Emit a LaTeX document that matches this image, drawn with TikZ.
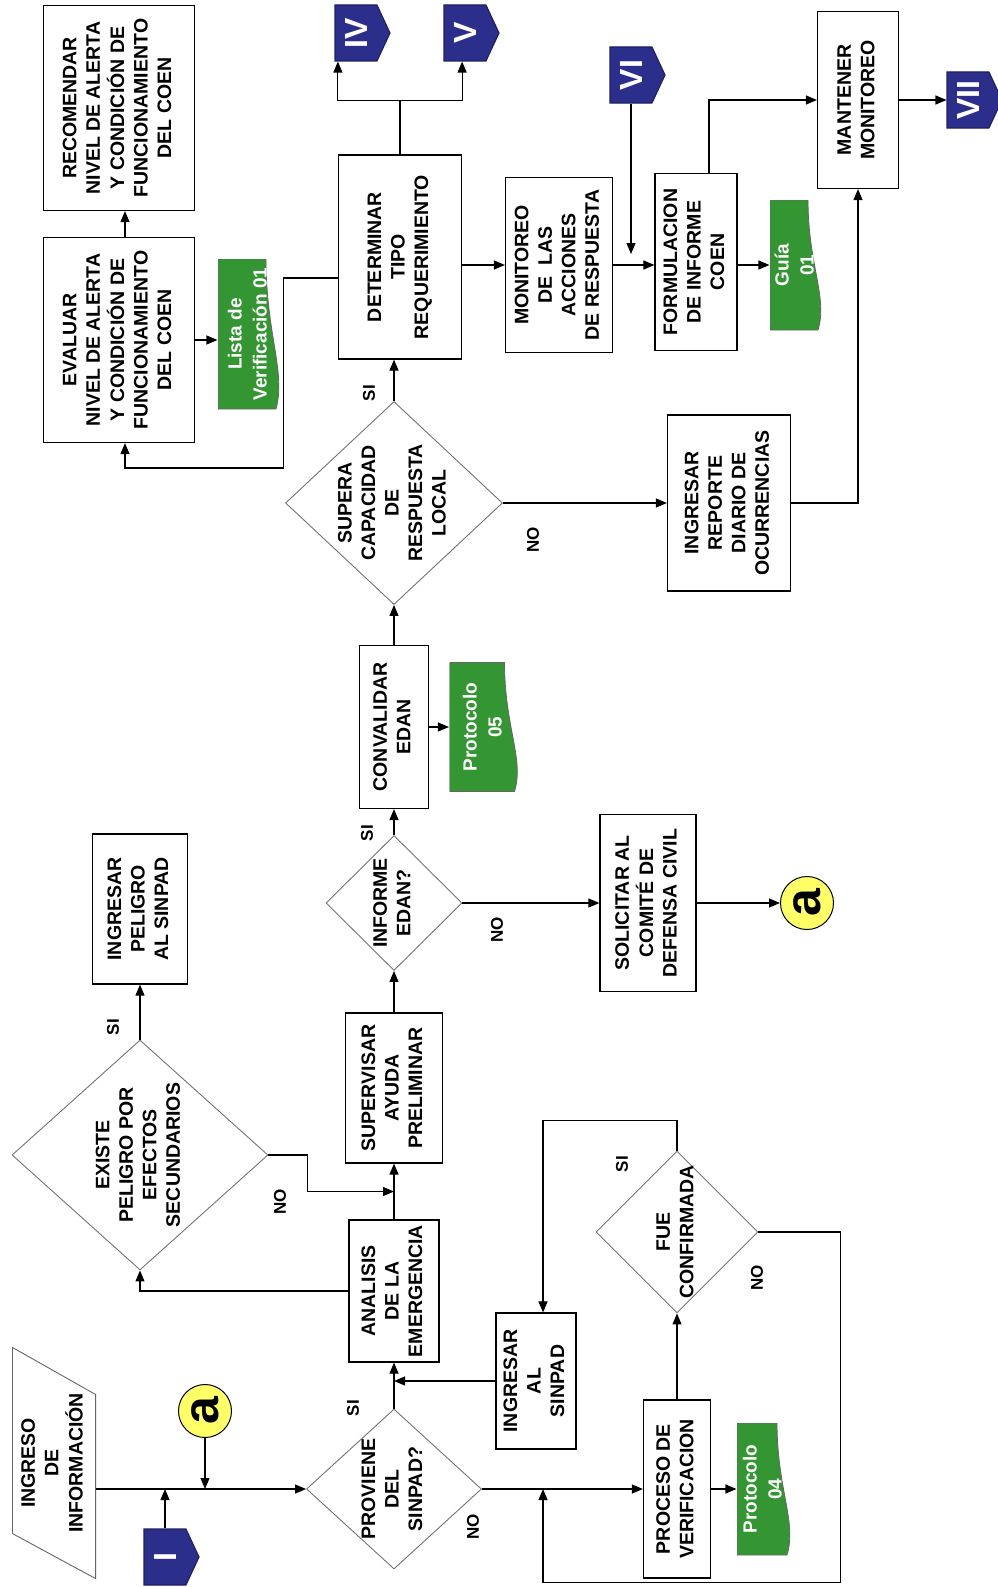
\documentclass[tikz,border=0pt]{standalone}
\usepackage{fontspec}
\setmainfont{Liberation Sans}
\usepackage{graphicx}
\usepackage{tikz}
\usetikzlibrary{arrows.meta}
\usetikzlibrary{shapes.geometric}
\usetikzlibrary{shapes.symbols}
\usetikzlibrary{calc}

\definecolor{conblue}{RGB}{44,46,140}
\definecolor{docgreen}{RGB}{51,150,51}
\definecolor{ayellow}{RGB}{255,255,102}

\newcommand{\vtxt}[1]{\rotatebox{90}{\begin{tabular}{@{}c@{}}#1\end{tabular}}}

\tikzset{
  box/.style={draw, line width=1.2pt, inner sep=1pt, font=\fontsize{19.5}{23.5}\selectfont\bfseries},
  dia/.style={diamond, draw=black!55, line width=0.9pt, inner sep=0pt},
  txt/.style={inner sep=0pt, font=\fontsize{19.5}{23.5}\selectfont\bfseries},
  lbl/.style={inner sep=0pt, font=\fontsize{17}{20}\selectfont\bfseries},
  doc/.style={inner sep=0pt, fill=white, text=white, font=\fontsize{19}{25}\selectfont\bfseries,
    path picture={\filldraw[fill=docgreen, draw=black!60, line width=0.8pt]
      (path picture bounding box.north west) -- ($(path picture bounding box.north east)+(-14,0)$)
      .. controls ($(path picture bounding box.north east)!0.5!(path picture bounding box.south east)+(-14,0)$)
      and ($(path picture bounding box.north east)!0.75!(path picture bounding box.south east)+(6,0)$)
      .. ($(path picture bounding box.south east)+(-4,0)$)
      -- (path picture bounding box.south west) -- cycle;}},
  con/.style={signal, signal to=east, signal pointer angle=130, fill=conblue, draw=conblue!70!black,
    text=white, inner sep=0pt, minimum width=55pt, minimum height=56pt, font=\fontsize{32}{32}\selectfont\bfseries},
  link/.style={circle, draw, line width=1pt, fill=ayellow, minimum size=53pt, inner sep=0pt,
    font=\fontsize{50}{50}\selectfont\bfseries},
  >={Triangle[length=11pt,width=9pt]}
}

\begin{document}
\begin{tikzpicture}[x=1pt, y=-1pt, line width=1.1pt]
\useasboundingbox (0,0) rectangle (997,1587);

% entrada
\node[txt, minimum width=82pt, minimum height=230pt] (inp) at (54,1463) {\vtxt{INGRESO\\DE\\INFORMACIÓN}};
\draw[line width=0.9pt, black!60] (inp.north west) -- ([yshift=-47pt]inp.north east) -- (inp.south east) -- ([yshift=45pt]inp.south west) -- cycle;
\node[con] (c1) at (165,1557) {\rotatebox{90}{I}};
\node[link] (a1) at (205,1411) {\rotatebox{90}{a}};

% columna central
\node[dia, minimum width=175pt, minimum height=160pt] (pro) at (394,1489) {};
\node[txt] (proT) at (pro) {\vtxt{PROVIENE\\DEL\\SINPAD?}};
\node[box, minimum width=90pt, minimum height=142pt] (ana) at (394,1291) {\vtxt{ANALISIS\\DE LA\\EMERGENCIA}};
\node[box, minimum width=97pt, minimum height=150pt] (spv) at (394,1088) {\vtxt{SUPERVISAR\\AYUDA\\PRELIMINAR}};
\node[dia, minimum width=136pt, minimum height=135pt] (inf) at (394,903) {};
\node[txt] (infT) at (inf) {\vtxt{INFORME\\EDAN?}};
\node[box, minimum width=69pt, minimum height=163pt] (cnv) at (394,727) {\vtxt{CONVALIDAR\\EDAN}};
\node[doc, minimum width=69pt, minimum height=129pt] (p05) at (484,727) {\vtxt{Protocolo\\05}};
\node[dia, minimum width=217pt, minimum height=203pt] (sup) at (394,503) {};
\node[txt] (supT) at (sup) {\vtxt{SUPERA\\CAPACIDAD\\DE\\RESPUESTA\\LOCAL}};
\node[box, minimum width=123pt, minimum height=204pt] (det) at (400,257) {\vtxt{DETERMINAR\\TIPO\\REQUERIMIENTO}};
\node[con] (iv) at (356,33) {\rotatebox{90}{IV}};
\node[con] (v) at (465,33) {\rotatebox{90}{V}};

% lado izquierdo
\node[box, minimum width=151pt, minimum height=205pt] (rec) at (119,108) {\vtxt{RECOMENDAR\\NIVEL DE ALERTA\\Y CONDICIÓN DE\\FUNCIONAMIENTO\\DEL COEN}};
\node[box, minimum width=151pt, minimum height=205pt] (eva) at (119,340) {\vtxt{EVALUAR\\NIVEL DE ALERTA\\Y CONDICIÓN DE\\FUNCIONAMIENTO\\DEL COEN}};
\node[doc, minimum width=62pt, minimum height=150pt] (lis) at (249,334) {\vtxt{Lista de\\Verificación 01}};
\node[box, minimum width=95pt, minimum height=150pt] (pel) at (140,909) {\vtxt{INGRESAR\\PELIGRO\\AL SINPAD}};
\node[dia, minimum width=256pt, minimum height=230pt] (exi) at (140,1155) {};
\node[txt] (exiT) at (exi) {\vtxt{EXISTE\\PELIGRO POR\\EFECTOS\\SECUNDARIOS}};

% lado derecho
\node[box, minimum width=107pt, minimum height=175pt] (mon) at (559,265) {\vtxt{MONITOREO\\DE~~LAS\\ACCIONES\\DE RESPUESTA}};
\node[con] (vi) at (631,75) {\rotatebox{90}{VI}};
\node[box, minimum width=82pt, minimum height=177pt] (frm) at (696,262) {\vtxt{FORMULACION\\DE INFORME\\COEN}};
\node[doc, minimum width=52pt, minimum height=130pt] (gui) at (796,265) {\vtxt{Guía\\01}};
\node[box, minimum width=81pt, minimum height=177pt] (man) at (858,100) {\vtxt{MANTENER\\MONITOREO}};
\node[con] (vii) at (968,100) {\rotatebox{90}{VII}};
\node[box, minimum width=123pt, minimum height=176pt] (rep) at (729,503) {\vtxt{INGRESAR\\REPORTE\\DIARIO DE\\OCURRENCIAS}};
\node[box, minimum width=96pt, minimum height=177pt] (sol) at (648,903) {\vtxt{SOLICITAR AL\\COMITÉ DE\\DEFENSA CIVIL}};
\node[link] (a2) at (807,903) {\rotatebox{90}{a}};
\node[box, minimum width=80pt, minimum height=136pt] (ins) at (536,1381) {\vtxt{INGRESAR\\AL\\SINPAD}};
\node[dia, minimum width=162pt, minimum height=162pt] (fue) at (677,1232) {};
\node[txt] (fueT) at (fue) {\vtxt{FUE\\CONFIRMADA}};
\node[box, minimum width=67pt, minimum height=178pt] (prc) at (677,1489) {\vtxt{PROCESO DE\\VERIFICACION}};
\node[doc, minimum width=54pt, minimum height=132pt] (p04) at (764,1489) {\vtxt{Protocolo\\04}};

% etiquetas SI / NO
\node[lbl] (siPro) at (353,1408) {\rotatebox{90}{SI}};
\node[lbl] (noPro) at (473,1527) {\rotatebox{90}{NO}};
\node[lbl] (siExi) at (113,1027) {\rotatebox{90}{SI}};
\node[lbl] (noExi) at (280,1202) {\rotatebox{90}{NO}};
\node[lbl] (siInf) at (367,833) {\rotatebox{90}{SI}};
\node[lbl] (noInf) at (497,930) {\rotatebox{90}{NO}};
\node[lbl] (siSup) at (369,393) {\rotatebox{90}{SI}};
\node[lbl] (noSup) at (533,540) {\rotatebox{90}{NO}};
\node[lbl] (siFue) at (622,1164) {\rotatebox{90}{SI}};
\node[lbl] (noFue) at (757,1278) {\rotatebox{90}{NO}};

% conexiones
\draw[->] (inp.east |- pro.west) -- (pro.west);
\draw[->] (c1.north) -- (c1.north |- pro.west);
\draw[->] (a1.south) -- (a1.south |- pro.west);
\draw[->] (pro.north) -- (ana.south);
\draw[->] (ins.west) -- (ins.west -| pro.north);
\draw[->] (pro.east) -- (prc.west);
\draw[->] (prc.east) -- (p04.west);
\draw[->] (prc.north) -- (fue.south);
\draw[->] (fue.north) -- ++(0,-30) -| ([xshift=7pt]ins.north);
\draw[->] (fue.east) -- ++(82,0) |- ($(prc.south -| ins.north)+(7,4)$) -- ([xshift=7pt]ins.north |- pro.east);
\draw[->] (ana.west) -| (exi.south);
\draw[->] (exi.north) -- (pel.south);
\draw[->] (exi.east) -- ++(39,0) |- ($(ana.north)!0.5!(spv.south)$);
\draw[->] (ana.north) -- (spv.south);
\draw[->] (spv.north) -- (inf.south);
\draw[->] (inf.north) -- (cnv.south);
\draw[->] (inf.east) -- (sol.west);
\draw[->] (sol.east) -- (a2.west);
\draw[->] (cnv.east) -- (p05.west);
\draw[->] (cnv.north) -- (sup.south);
\draw[->] (sup.north) -- (sup.north |- det.south);
\draw[->] (sup.east) -- (rep.west);
\draw[->] (rep.east) -| (man.south);
\draw (det.north) -- ++(0,-54) coordinate (spl);
\draw[->] (spl) -| (iv.south -| det.west);
\draw[->] (spl) -| (v.south -| det.east);
\draw[->] ([yshift=-21pt]det.west) -| ++(-54,190) -| ([xshift=6pt]eva.south);
\draw[->] (eva.east) -- (eva.east -| lis.west);
\draw[->] ([xshift=6pt]eva.north) -- ([xshift=6pt]rec.south);
\draw[->] (det.east |- mon.west) -- (mon.west);
\draw[->] (mon.east) -- (frm.west |- mon.east);
\draw[->] (vi.south) -- ($(vi.south |- mon.east)+(0,-11)$);
\draw[->] (frm.east |- gui.west) -- (gui.west);
\draw[->] ([xshift=13pt]frm.north) |- (man.west);
\draw[->] (man.east) -- (vii.west);
\end{tikzpicture}
\end{document}
